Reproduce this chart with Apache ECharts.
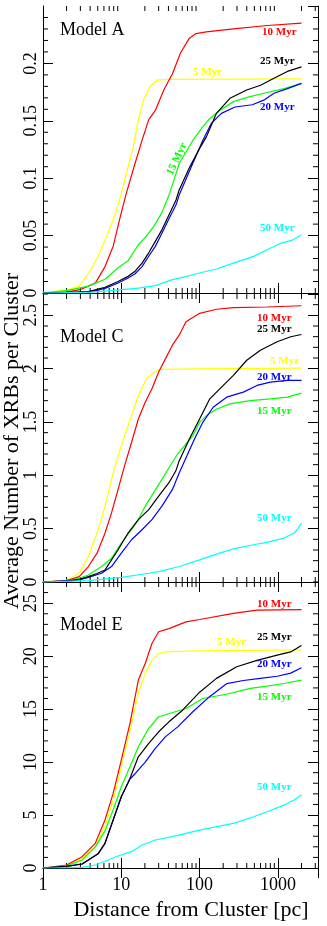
<!DOCTYPE html>
<html>
<head>
<meta charset="UTF-8">
<title>XRBs per cluster</title>
<script src="https://cdn.jsdelivr.net/npm/echarts@6/dist/echarts.min.js"></script>
<style>body{margin:0;background:#fff;}</style>
</head>
<body>
<div id="myChart" style="width:327px;height:926px;"></div>
<script type="text/javascript">
// distance [pc], average number of XRBs
var a5  = [[1,0.0005],[2,0.0025],[2.9,0.006],[3.8,0.017],[4.9,0.030],[6.2,0.046],[7.9,0.064],[9.5,0.081],[11.6,0.104],[14.2,0.1275],[16.5,0.151],[19.2,0.168],[23.4,0.180],[28.6,0.1855],[40,0.186],[2000,0.1865]];
var a10 = [[1,0],[2,0.001],[3,0.003],[3.8,0.006],[4.7,0.009],[6.2,0.023],[7.9,0.041],[9.5,0.064],[11.6,0.087],[15,0.113],[18.4,0.133],[22.4,0.151],[27.2,0.159],[35,0.177],[45,0.191],[57,0.209],[74,0.222],[90,0.226],[122,0.2275],[270,0.230],[730,0.233],[2000,0.235]];
var a15 = [[1,0],[2,0.002],[3.8,0.006],[6.2,0.012],[9.1,0.022],[12.2,0.028],[16.5,0.042],[20,0.048],[26,0.058],[33,0.070],[40,0.084],[50,0.104],[55,0.113],[70,0.125],[82,0.133],[110,0.145],[135,0.152],[180,0.159],[270,0.1667],[440,0.171],[660,0.174],[1200,0.178],[2000,0.1826]];
var a20 = [[1,0],[2,0.0003],[3.8,0.0006],[6.2,0.004],[9.1,0.0087],[12.2,0.013],[15,0.0168],[18.4,0.023],[22.4,0.032],[27.2,0.0406],[33,0.052],[40,0.0638],[50,0.0768],[55,0.0855],[74,0.106],[110,0.133],[142,0.148],[190,0.1565],[283,0.162],[470,0.164],[660,0.168],[890,0.174],[1320,0.178],[2000,0.1826]];
var a25 = [[1,0],[2,0.0005],[3.8,0.0012],[6.2,0.005],[9.1,0.010],[12.2,0.0145],[15,0.019],[18.4,0.026],[22.4,0.035],[27.2,0.045],[33,0.055],[40,0.067],[50,0.081],[55,0.090],[74,0.109],[100,0.126],[122,0.136],[164,0.1565],[244,0.1696],[400,0.1768],[600,0.181],[890,0.187],[1320,0.193],[2000,0.197]];
var a50 = [[1,0],[3.8,0.0006],[8.2,0.0023],[16.5,0.0043],[27.2,0.0064],[45,0.0116],[55,0.013],[100,0.0174],[164,0.0209],[270,0.026],[490,0.0319],[730,0.0377],[1100,0.0435],[1500,0.0458],[2000,0.0507]];

var c5  = [[1,0],[2,0.019],[2.9,0.082],[3.8,0.239],[4.9,0.459],[6.2,0.711],[7.5,0.962],[9.1,1.182],[11,1.371],[13.5,1.56],[16.5,1.748],[21,1.906],[27.2,1.975],[31.6,1.994],[100,1.998],[2000,2.005]];
var c10 = [[1,0],[2,0.013],[2.9,0.05],[3.8,0.145],[4.9,0.27],[6.2,0.459],[7.5,0.648],[9.1,0.868],[11,1.088],[13.5,1.308],[16.5,1.528],[20.2,1.686],[24.6,1.811],[30,1.969],[36.7,2.094],[44.9,2.22],[54.8,2.314],[67,2.44],[100,2.519],[164,2.557],[270,2.572],[727,2.578],[2000,2.59]];
var c15 = [[1,0],[2,0.009],[2.9,0.035],[3.8,0.066],[5.6,0.145],[7.5,0.223],[10,0.365],[13.5,0.49],[16.5,0.585],[20.2,0.711],[25.8,0.836],[33,0.962],[42,1.088],[52,1.198],[82,1.37],[100,1.497],[122,1.56],[164,1.62],[244,1.67],[443,1.70],[803,1.717],[1320,1.733],[2000,1.77]];
var c20 = [[1,0],[2.9,0.019],[3.8,0.044],[5.6,0.082],[7.5,0.145],[10,0.27],[13.5,0.396],[18.4,0.49],[24.6,0.585],[33,0.711],[45,0.868],[55,1.025],[86,1.34],[110,1.497],[149,1.638],[221,1.733],[362,1.78],[540,1.843],[803,1.874],[1320,1.89],[2000,1.89]];
var c25 = [[1,0],[2,0.005],[2.9,0.025],[3.8,0.05],[4.9,0.08],[6.2,0.113],[9.1,0.302],[12.2,0.459],[16.5,0.585],[22.4,0.679],[30,0.805],[40.6,0.931],[49.6,1.04],[54.8,1.135],[74,1.34],[100,1.528],[135,1.717],[181,1.811],[270,1.937],[400,2.079],[597,2.173],[978,2.252],[1457,2.299],[2000,2.32]];
var c50 = [[1,0],[3.8,0.013],[10,0.044],[22.4,0.082],[30,0.097],[55,0.145],[100,0.208],[164,0.261],[270,0.311],[489,0.349],[727,0.371],[1195,0.412],[1609,0.459],[1800,0.50],[2000,0.553]];

var e5  = [[1,0],[2,0.2],[3.16,0.91],[4.65,2.01],[6.19,3.9],[7.87,6.42],[10,9.56],[12.9,13.0],[16.5,16.5],[20.2,18.4],[24.6,19.6],[30,20.25],[36.7,20.4],[100,20.5],[2000,20.6]];
var e10 = [[1,0],[2,0.28],[3.16,1.07],[4.65,2.33],[6.19,4.53],[7.87,7.04],[10,10.19],[12.9,13.65],[16.5,17.74],[20.2,19.3],[24.6,21.2],[30,22.3],[40.6,22.6],[67,23.24],[100,23.46],[270,24.03],[540,24.34],[2000,24.4]];
var e15 = [[1,0],[2,0.2],[3.16,0.75],[4.65,2.0],[6.19,3.5],[7.87,5.5],[10,7.67],[12.9,9.56],[16.5,11.45],[22.4,13.18],[30,14.28],[67,15.06],[110,16.0],[221,16.4],[443,16.95],[727,17.17],[1195,17.42],[2000,17.74]];
var e20 = [[1,0],[2,0.15],[3.16,0.38],[5.1,1.38],[6.19,2.33],[7.87,4.53],[10,6.73],[12.9,8.4],[15,8.9],[20.2,10.0],[27.2,11.3],[36.7,12.4],[52.1,13.3],[81.9,14.75],[135,16.2],[221,17.4],[362,17.7],[597,17.9],[978,18.1],[1457,18.4],[2000,18.9]];
var e25 = [[1,0],[2,0.15],[3.16,0.38],[5.1,1.38],[6.19,2.33],[7.87,4.53],[10,6.73],[12.9,8.46],[16.5,10.5],[22.4,11.76],[30,12.86],[40.6,13.8],[60.6,14.9],[100,16.6],[164,17.9],[298,19.0],[540,19.6],[978,20.1],[1457,20.4],[2000,21.0]];
var e50 = [[1,0],[2,0.02],[3.16,0.06],[4.65,0.28],[6.8,0.75],[9.1,1.13],[13.5,1.54],[18.4,2.17],[27.2,2.64],[44.9,2.96],[67,3.27],[100,3.58],[270,4.21],[489,4.84],[727,5.31],[1195,5.94],[1609,6.42],[2000,6.89]];

var ages   = ['5 Myr', '10 Myr', '15 Myr', '20 Myr', '25 Myr', '50 Myr'];
var colors = ['#ffff00', '#ff0000', '#00ff00', '#0000ff', '#000000', '#00ffff'];
var xMinor = [2,3,4,5,6,7,8,9,20,30,40,50,60,70,80,90,200,300,400,500,600,700,800,900,2000,3000];

var panels = [
  { title: 'Model A', top: 6,   height: 287, max: 0.25, interval: 0.05, minor: 0.01, data: [a5, a10, a15, a20, a25, a50],
    labels: [[193,72],[262,32],[177,159],[260,107],[260,61],[260,228]] },
  { title: 'Model C', top: 294, height: 288, max: 2.7,  interval: 0.5,  minor: 0.1,  data: [c5, c10, c15, c20, c25, c50],
    labels: [[270,361],[257,318],[257,411],[257,377],[257,329],[257,518]] },
  { title: 'Model E', top: 582, height: 286, max: 27,   interval: 5,    minor: 1,    data: [e5, e10, e15, e20, e25, e50],
    labels: [[217,642],[257,604],[257,697],[257,664],[257,637],[257,787]] }
];

var serif = 'Liberation Serif';
var grids = [], xAxes = [], yAxes = [], series = [], graphics = [];

function minorTicks(params, api) {
  var cs = params.coordSys;
  var p = api.coord([api.value(0), api.value(1)]);
  var L = 5, lines;
  if (api.value(2) === 0) {
    lines = [[p[0], cs.y + cs.height, p[0], cs.y + cs.height - L], [p[0], cs.y, p[0], cs.y + L]];
  } else {
    lines = [[cs.x, p[1], cs.x + L, p[1]], [cs.x + cs.width, p[1], cs.x + cs.width - L, p[1]]];
  }
  return {
    type: 'group',
    children: lines.map(function (l) {
      return { type: 'line', shape: { x1: l[0], y1: l[1], x2: l[2], y2: l[3] }, style: { stroke: '#000', lineWidth: 1 } };
    })
  };
}

panels.forEach(function (p, i) {
  var last = i === panels.length - 1;
  grids.push({ left: 43, width: 275, top: p.top, height: p.height, containLabel: false, outerBoundsMode: 'none' });
  ['bottom', 'top'].forEach(function (pos) {
    xAxes.push({
      type: 'log', logBase: 10, min: 1, max: 3250, gridIndex: i, position: pos,
      axisLine: { lineStyle: { color: '#000', width: 1 } },
      axisTick: { inside: true, length: 10, lineStyle: { color: '#000' } },
      axisLabel: {
        show: pos === 'bottom' && last, showMaxLabel: false, margin: 8, color: '#000', fontFamily: serif, fontSize: 18,
        formatter: function (v) { return String(Math.round(v)); }
      },
      splitLine: { show: false }
    });
  });
  ['left', 'right'].forEach(function (pos) {
    yAxes.push({
      type: 'value', min: 0, max: p.max, interval: p.interval, gridIndex: i, position: pos,
      axisLine: { show: true, lineStyle: { color: '#000', width: 1 } },
      axisTick: { show: true, inside: true, length: 10, lineStyle: { color: '#000' } },
      axisLabel: { show: pos === 'left', rotate: 90, showMaxLabel: false, margin: 3, color: '#000', fontFamily: serif, fontSize: 18 },
      splitLine: { show: false }
    });
  });

  p.data.forEach(function (d, k) {
    series.push({
      type: 'line', name: ages[k], data: d, xAxisIndex: 2 * i, yAxisIndex: 2 * i,
      showSymbol: false, silent: true,
      lineStyle: { color: colors[k], width: 1.2 }
    });
    var lab = p.labels[k];
    graphics.push({
      type: 'text', x: lab[0], y: lab[1],
      rotation: (i === 0 && k === 2) ? 1.13 : 0,
      style: {
        text: ages[k], fill: colors[k], font: 'bold 11px "Liberation Serif"',
        textAlign: (i === 0 && k === 2) ? 'center' : 'left', textVerticalAlign: 'middle'
      }
    });
  });

  var ticks = [];
  xMinor.forEach(function (v) { ticks.push([v, 0, 0]); });
  var n = Math.round(p.max / p.minor), step = Math.round(p.interval / p.minor);
  for (var k = 1; k <= n; k++) {
    if (k % step !== 0) ticks.push([1, +(k * p.minor).toFixed(3), 1]);
  }
  series.push({
    type: 'custom', xAxisIndex: 2 * i, yAxisIndex: 2 * i, silent: true,
    renderItem: minorTicks, data: ticks
  });

  graphics.push({
    type: 'text', x: 60, y: p.top + (i === 0 ? 24 : 43),
    style: { text: p.title, fill: '#000', font: '18px "Liberation Serif"', textAlign: 'left', textVerticalAlign: 'middle' }
  });
});

graphics.push({
  type: 'text', x: 191, y: 910,
  style: { text: 'Distance from Cluster [pc]', fill: '#000', font: '22px "Liberation Serif"', textAlign: 'center', textVerticalAlign: 'middle' }
});
graphics.push({
  type: 'text', x: 12, y: 441, rotation: Math.PI / 2,
  style: { text: 'Average Number of XRBs per Cluster', fill: '#000', font: '22px "Liberation Serif"', textAlign: 'center', textVerticalAlign: 'middle' }
});

var myChart = echarts.init(document.getElementById('myChart'));
myChart.setOption({
  animation: false,
  backgroundColor: '#fff',
  grid: grids,
  xAxis: xAxes,
  yAxis: yAxes,
  series: series,
  graphic: graphics
});
</script>
</body>
</html>
